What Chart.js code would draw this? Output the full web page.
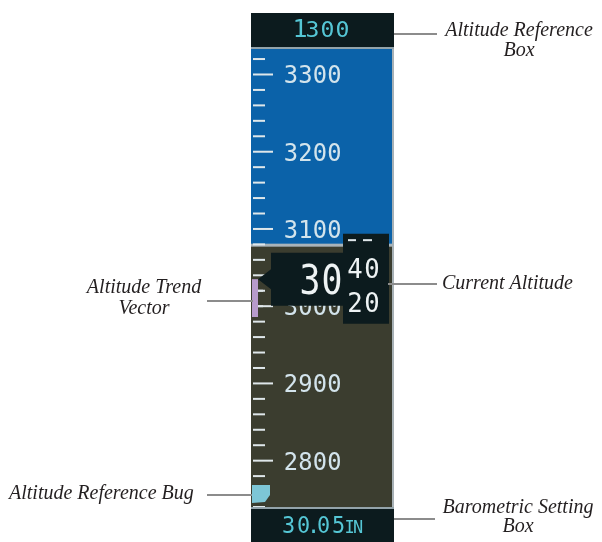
<!DOCTYPE html>
<html>
<head>
<meta charset="utf-8">
<script src="https://cdn.jsdelivr.net/npm/chart.js@4.4.1/dist/chart.umd.min.js"></script>
<style>
html,body{margin:0;padding:0;background:#fff;}
#wrap{width:602px;height:542px;position:relative;}
</style>
</head>
<body>
<div id="wrap"><canvas id="alt" width="602" height="542"></canvas></div>
<script>
// altitude tape data (feet)
var altRange = [2740, 3333];
var horizonAlt = 3079;
var tapeLabels = [2800, 2900, 3000, 3100, 3200, 3300];
var minorStep = 20;
var currentAlt = 3035;
var trendAlt = 2986;
var refAlt = 1300;
var baroSetting = ['3', '0', '.', '0', '5'];
var baroUnit = ['I', 'N'];

var SKY = '#0b62a9', GROUND = '#3b3d2f', BOX = '#0c1b1e', CYAN = '#55c6d5';
var MONO = '"DejaVu Sans Mono"';

// draw characters one by one at given centres, on a common baseline
function drawChars(ctx, chars, centers, base, size, color, sx) {
  ctx.save();
  ctx.font = size + 'px ' + MONO;
  ctx.fillStyle = color;
  ctx.textAlign = 'center';
  ctx.textBaseline = 'alphabetic';
  for (var i = 0; i < chars.length; i++) {
    ctx.save();
    ctx.translate(centers[i], base);
    ctx.scale(sx || 1, 1);
    ctx.fillText(chars[i], 0, 0);
    ctx.restore();
  }
  ctx.restore();
}

function line(ctx, x1, y1, x2, y2) {
  ctx.save();
  ctx.strokeStyle = '#8c8c8c';
  ctx.lineWidth = 2;
  ctx.beginPath(); ctx.moveTo(x1, y1); ctx.lineTo(x2, y2); ctx.stroke();
  ctx.restore();
}

function note(ctx, s, x, y, align) {
  ctx.save();
  ctx.font = 'italic 20px "Liberation Serif"';
  ctx.fillStyle = '#231f20';
  ctx.textAlign = align;
  ctx.textBaseline = 'middle';
  ctx.fillText(s, x, y);
  ctx.restore();
}

var tapePlugin = {
  id: 'tape',
  afterDatasetsDraw: function(chart) {
    var ctx = chart.ctx, ys = chart.scales.y, a = chart.chartArea;
    var L = a.left;
    ctx.save();
    ctx.beginPath(); ctx.rect(a.left, a.top, a.right - a.left, a.bottom - a.top); ctx.clip();

    // horizon line
    var hy = ys.getPixelForValue(horizonAlt);
    ctx.fillStyle = '#a9b4ba';
    ctx.fillRect(a.left, hy - 1.5, a.right - a.left, 3);

    // tick marks
    ctx.fillStyle = '#dfe7ea';
    for (var v = Math.ceil(altRange[0] / minorStep) * minorStep; v <= altRange[1]; v += minorStep) {
      var y = ys.getPixelForValue(v);
      ctx.fillRect(L + 2, y - 1, v % 100 === 0 ? 20 : 12, 2);
    }
    // tape labels
    tapeLabels.forEach(function(v) {
      var s = String(v).split('');
      drawChars(ctx, s, [L + 40, L + 54.5, L + 69, L + 83.5], ys.getPixelForValue(v) + 9, 25, '#d3e4ec', 0.95);
    });

    // trend vector
    var cy = ys.getPixelForValue(currentAlt);
    var ty = ys.getPixelForValue(trendAlt);
    ctx.fillStyle = '#b79bcb';
    ctx.fillRect(L + 1, Math.min(cy, ty), 6, Math.abs(ty - cy));
    ctx.fillStyle = '#dfe7ea';
    for (var v2 = Math.ceil(trendAlt / minorStep) * minorStep; v2 <= currentAlt; v2 += minorStep) {
      ctx.fillRect(L + 7, ys.getPixelForValue(v2) - 1, 5, 2);
    }

    // reference bug (parked at bottom when out of range)
    var by = Math.min(ys.getPixelForValue(refAlt), a.bottom - 13);
    ctx.fillStyle = '#7dc6d6';
    ctx.beginPath();
    ctx.moveTo(L + 1, by - 9);
    ctx.lineTo(L + 19, by - 9);
    ctx.lineTo(L + 19, by + 1);
    ctx.lineTo(L + 14, by + 8);
    ctx.lineTo(L + 1, by + 9);
    ctx.closePath(); ctx.fill();
    ctx.restore();

    // right edge
    ctx.fillStyle = '#a7b1b6';
    ctx.fillRect(a.right - 1, a.top, 2, a.bottom - a.top);

    // current altitude box with pointer
    ctx.fillStyle = BOX;
    ctx.beginPath();
    ctx.moveTo(L + 7, cy);
    ctx.lineTo(L + 20, cy - 10);
    ctx.lineTo(L + 20, cy - 26.5);
    ctx.lineTo(L + 92, cy - 26.5);
    ctx.lineTo(L + 92, cy - 45.5);
    ctx.lineTo(L + 138, cy - 45.5);
    ctx.lineTo(L + 138, cy + 44.5);
    ctx.lineTo(L + 92, cy + 44.5);
    ctx.lineTo(L + 92, cy + 26.5);
    ctx.lineTo(L + 20, cy + 26.5);
    ctx.lineTo(L + 20, cy + 10);
    ctx.closePath(); ctx.fill();

    var hundreds = String(Math.floor(currentAlt / 100)).split('');
    drawChars(ctx, hundreds, [L + 59, L + 81], cy + 15, 41, '#eef3f4', 0.85);
    var tens = currentAlt % 100;
    var lo = Math.floor(tens / 20) * 20, hi = lo + 20;
    function two(n) { return (n < 10 ? '0' + n : String(n)).split(''); }
    drawChars(ctx, two(hi), [L + 104, L + 121], cy - 1, 27, '#eef3f4', 0.95);
    drawChars(ctx, two(lo), [L + 104, L + 121], cy + 33, 27, '#eef3f4', 0.95);
    ctx.fillStyle = '#dfe7ea';
    ctx.fillRect(L + 97, cy - 40, 8, 2);
    ctx.fillRect(L + 112, cy - 40, 9, 2);

    // altitude reference box
    ctx.fillStyle = BOX;
    ctx.fillRect(L, 13, a.right - L + 1, a.top - 13);
    ctx.fillStyle = '#93a3aa';
    ctx.fillRect(L, a.top - 2, a.right - L + 1, 2);
    var ref = String(refAlt).split('');
    drawChars(ctx, [ref[0]], [L + 49], 37, 25, CYAN, 1);
    drawChars(ctx, ref.slice(1), [L + 61.5, L + 76.5, L + 91.5], 37, 22, CYAN, 1.05);

    // barometric setting box
    ctx.fillStyle = BOX;
    ctx.fillRect(L, a.bottom, a.right - L + 1, chart.height - a.bottom);
    ctx.fillStyle = '#93a3aa';
    ctx.fillRect(L, a.bottom, a.right - L + 1, 2);
    drawChars(ctx, baroSetting, [L + 37.5, L + 52.5, L + 62.5, L + 72.5, L + 87.5], 533, 23, CYAN, 0.95);
    drawChars(ctx, baroUnit, [L + 98.5, L + 107], 533, 17, CYAN, 1);
  },
  afterDraw: function(chart) {
    var ctx = chart.ctx;
    line(ctx, 394, 34, 437, 34);
    note(ctx, 'Altitude Reference', 519, 31, 'center');
    note(ctx, 'Box', 519, 51, 'center');

    line(ctx, 388, 284, 437, 284);
    note(ctx, 'Current Altitude', 442, 284, 'left');

    line(ctx, 207, 301, 253, 301);
    note(ctx, 'Altitude Trend', 144, 288, 'center');
    note(ctx, 'Vector', 144, 309, 'center');

    line(ctx, 207, 495, 252, 495);
    note(ctx, 'Altitude Reference Bug', 9, 494, 'left');

    line(ctx, 394, 519, 435, 519);
    note(ctx, 'Barometric Setting', 518, 508, 'center');
    note(ctx, 'Box', 518, 527, 'center');
  }
};

var cfg = {
  type: 'bar',
  data: {
    labels: ['altitude'],
    datasets: [
      { label: 'sky', data: [[horizonAlt, altRange[1]]], backgroundColor: SKY },
      { label: 'ground', data: [[altRange[0], horizonAlt]], backgroundColor: GROUND }
    ]
  },
  options: {
    responsive: false,
    animation: false,
    events: [],
    layout: { padding: { left: 251, right: 209, top: 49, bottom: 35 } },
    datasets: { bar: { grouped: false, barPercentage: 1, categoryPercentage: 1, borderWidth: 0 } },
    plugins: { legend: { display: false }, tooltip: { enabled: false } },
    scales: {
      x: { display: false },
      y: { display: false, min: altRange[0], max: altRange[1] }
    }
  },
  plugins: [tapePlugin]
};

var chart = new Chart(document.getElementById('alt').getContext('2d'), cfg);
</script>
</body>
</html>
